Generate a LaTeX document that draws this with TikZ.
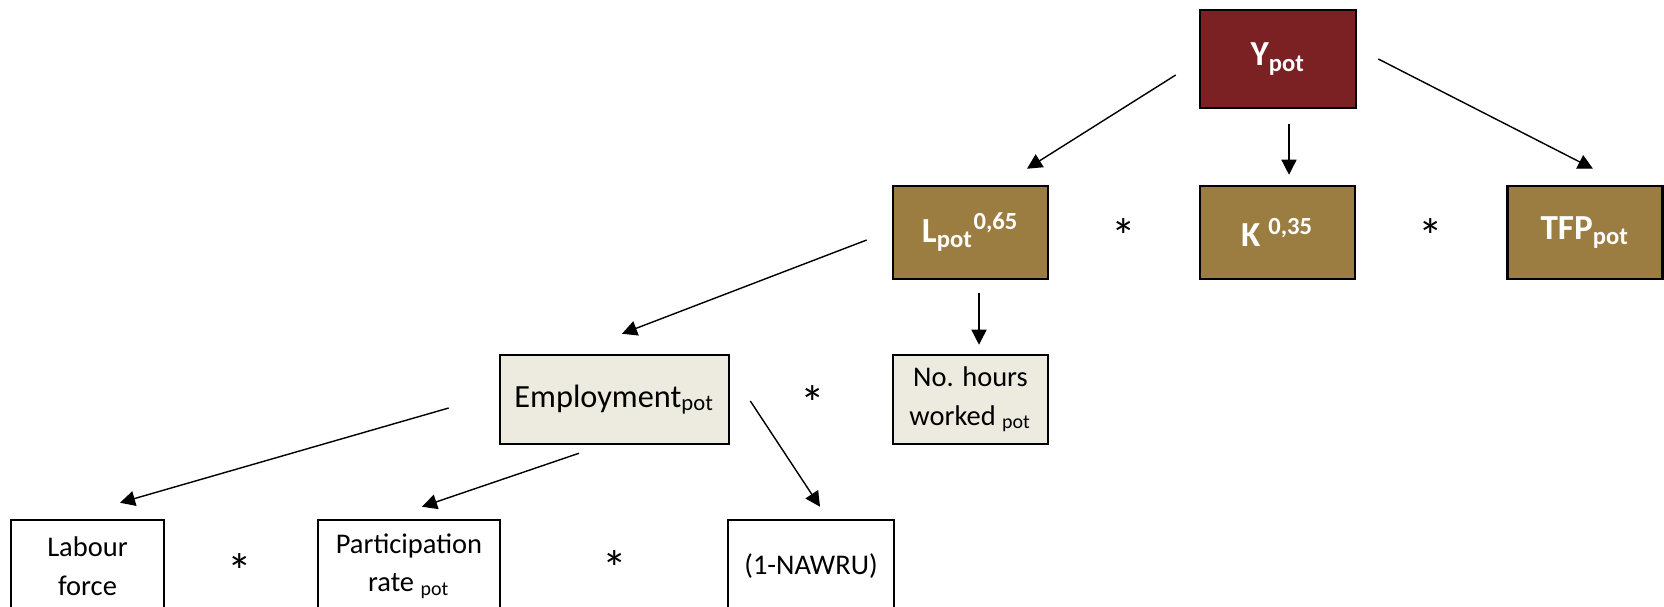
\documentclass[tikz,border=0pt]{standalone}
\usepackage{fontspec}
\setmainfont{Carlito}
\usetikzlibrary{arrows.meta}
\definecolor{ypotred}{RGB}{123,32,35}
\definecolor{factorbrown}{RGB}{155,125,65}
\definecolor{labourbeige}{RGB}{237,235,224}

\begin{document}
\begin{tikzpicture}[x=0.01cm, y=-0.01cm,
  topbox/.style={draw=black, line width=0.7pt, fill=factorbrown, text=white, font=\fontsize{10}{12}\selectfont\bfseries, minimum width=1.55cm, minimum height=0.93cm, inner sep=0pt},
  midbox/.style={draw=black, line width=0.7pt, fill=labourbeige, minimum height=0.89cm, inner sep=0pt, align=center},
  lowbox/.style={draw=black, line width=0.7pt, fill=white, minimum height=0.92cm, inner sep=0pt, align=center, font=\fontsize{8.1}{11}\selectfont},
  arr/.style={-{Triangle[length=0.15cm,width=0.15cm]}, line width=0.4pt},
  times/.style={font=\fontsize{14}{16}\selectfont, inner sep=0pt, anchor=base}]
\useasboundingbox (0,0) rectangle (1664,607);
\begin{scope}
\clip (0,0) rectangle (1664,607);
% output and its three factors
\node[topbox, fill=ypotred, minimum width=1.56cm, minimum height=0.98cm] (ypot) at (1278,59) {Y\textsubscript{pot}};
\node[topbox] (lpot) at (970.5,232.5) {L\textsubscript{pot}\textsuperscript{0,65}};
\node[topbox] (kcap) at (1277.5,232.5) {K \textsuperscript{0,35}};
\node[topbox] (tfp) at (1585,232.5) {TFP\textsubscript{pot}};
\node[times] (star1) at (1124,254) {*};
\node[times] (star2) at (1431,254) {*};
% labour input
\node[midbox, minimum width=2.29cm, font=\fontsize{9.2}{11}\selectfont] (emp) at (614.5,399.5) {Employment\textsubscript{pot}};
\node[midbox, minimum width=1.55cm, font=\fontsize{8.1}{11}\selectfont] (hours) at (970.5,399.5) {No. hours\\worked \textsubscript{pot}};
\node[times] (star3) at (813,421) {*};
% employment
\node[lowbox, minimum width=1.53cm] (labour) at (87.5,566) {Labour\\force};
\node[lowbox, minimum width=1.82cm] (partic) at (409,566) {Participation\\rate \textsubscript{pot}};
\node[lowbox, minimum width=1.66cm] (nawru) at (811,566) {(1-NAWRU)};
\node[times] (star4) at (240,588) {*};
\node[times] (star5) at (615,586) {*};
% arrows
\draw[arr] ([shift={(-23,16)}]ypot.west) -- ([shift={(56.5,-16)}]lpot.north);
\draw[arr] ([shift={(11,15)}]ypot.south) -- ([shift={(11.5,-10)}]kcap.north);
\draw[arr] ([shift={(21,0)}]ypot.east) -- ([shift={(8,-16)}]tfp.north);
\draw[arr] ([shift={(-25,7.5)}]lpot.west) -- ([shift={(7.5,-20)}]emp.north);
\draw[arr] ([shift={(8.5,13)}]lpot.south) -- ([shift={(8.5,-9)}]hours.north);
\draw[arr] ([shift={(-50,8.5)}]emp.west) -- ([shift={(32.5,-16)}]labour.north);
\draw[arr] ([shift={(-35.5,8)}]emp.south) -- ([shift={(13,-12)}]partic.north);
\draw[arr] ([shift={(20,1.5)}]emp.east) -- ([shift={(9,-12)}]nawru.north);
\end{scope}
\end{tikzpicture}
\end{document}
